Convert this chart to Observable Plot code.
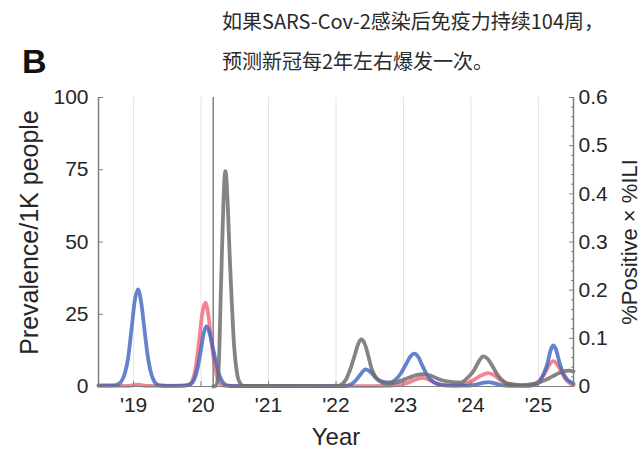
<!DOCTYPE html>
<html>
<head>
<meta charset="utf-8">
<script src="https://cdn.jsdelivr.net/npm/d3@7"></script>
<script src="https://cdn.jsdelivr.net/npm/@observablehq/plot@0.6"></script>
<style>
  body { margin: 0; background: #fff; }
  #header { position: relative; width: 642px; height: 85px; }
  #panel { position: absolute; left: 22px; top: 44px; font: bold 34px/1 "Liberation Sans", Arial, sans-serif; color: #111; }
  .t { position: absolute; left: 222px; font: 20px/20px "Noto Sans CJK SC", sans-serif; color: #2a2a2a; white-space: nowrap; }
</style>
</head>
<body>
<div id="header"><div id="panel"></div><div class="t" id="t1" style="top:11px"></div><div class="t" id="t2" style="top:51px"></div></div>
<div id="chart"></div>
<script>
// ---- text ----
const panelLabel = "B";
const titleLines = ["如果SARS-Cov-2感染后免疫力持续104周，", "预测新冠每2年左右爆发一次。"];
const xLabel = "Year";
const yLabelLeft = "Prevalence/1K people";
const yLabelRight = "%Positive × %ILI";

// ---- axes ----
const xDomain = [2018.48, 2025.52];
const yearTicks = [2019, 2020, 2021, 2022, 2023, 2024, 2025];
const xTickLabels = ["'19", "'20", "'21", "'22", "'23", "'24", "'25"];
const leftTicks = [0, 25, 50, 75, 100];
const rightTicks = [0, 0.1, 0.2, 0.3, 0.4, 0.5, 0.6];
const rightMinorTicks = [0.02,0.04,0.06,0.08,0.12,0.14,0.16,0.18,0.22,0.24,0.26,0.28,0.32,0.34,0.36,0.38,0.42,0.44,0.46,0.48,0.52,0.54,0.56,0.58];
const rightFactor = 0.006; // right-axis units per left-axis unit (0.6 <-> 100)
const vlineYear = 2020.18;

// ---- series (left-axis units) ----
const blueYears = [2018.48,2018.70,2018.77,2018.82,2018.87,2018.92,2018.97,2019.02,2019.065,2019.11,2019.16,2019.21,2019.26,2019.31,2019.37,2019.5,
  2019.75,2019.85,2019.9,2019.95,2020.0,2020.04,2020.078,2020.12,2020.17,2020.22,2020.27,2020.32,2020.38,2020.5,
  2022.1,2022.2,2022.28,2022.35,2022.44,2022.52,2022.6,2022.7,2022.8,2022.88,2022.96,2023.04,2023.1,2023.16,2023.22,2023.28,2023.35,2023.42,2023.5,2023.65,2023.9,
  2024.05,2024.15,2024.26,2024.35,2024.45,2024.6,2024.85,2024.95,2025.02,2025.08,2025.14,2025.18,2025.22,2025.26,2025.31,2025.36,2025.42,2025.48,2025.52];
const blueValues = [0.4,0.4,0.8,1.8,4.5,10,20,30,33.6,29.5,20,10.5,4.5,1.6,0.5,0.2,
  0.3,0.9,2.5,6.5,13,18.5,20.8,19,14,8.5,4,1.5,0.4,0.1,
  0.1,0.5,1.8,3.8,5.9,4.8,2.8,1.6,1.4,2.3,4.5,7.8,10.3,11.4,10.2,7.2,4,2,0.9,0.4,0.3,
  0.6,1.1,1.5,1.1,0.5,0.2,0.2,0.6,1.8,4.5,8.5,12.5,14.2,12.8,8.5,5,2.6,1.5,1.0];

const redYears = [2018.48,2018.9,2019.065,2019.2,2019.75,2019.82,2019.87,2019.92,2019.97,2020.02,2020.063,2020.10,2020.15,2020.20,2020.25,2020.30,2020.38,
  2022.4,2022.7,2022.9,2023.0,2023.1,2023.2,2023.28,2023.36,2023.45,2023.55,2023.7,2023.85,2023.95,2024.05,2024.15,2024.26,2024.35,2024.44,2024.54,2024.7,2024.85,
  2024.95,2025.03,2025.1,2025.16,2025.22,2025.28,2025.34,2025.4,2025.46,2025.52];
const redValues = [0.2,0.2,0.6,0.2,0.3,0.6,2,6.5,15.5,25.5,29,26,16.5,7.5,2.5,0.7,0.2,
  0.1,0.2,0.5,0.9,1.6,2.6,3.0,2.5,1.4,0.6,0.3,0.5,1.2,2.4,3.8,4.6,3.8,2.2,1.0,0.4,0.4,
  1.0,2.4,4.8,7.5,8.8,7.6,5,2.6,1.2,0.5];

const grayYears = [2020.18,2020.22,2020.25,2020.27,2020.29,2020.32,2020.345,2020.36,2020.375,2020.40,2020.43,2020.46,2020.49,2020.53,2020.57,2020.63,
  2022.0,2022.08,2022.15,2022.22,2022.28,2022.33,2022.38,2022.43,2022.48,2022.53,2022.6,2022.68,2022.78,2022.9,2023.0,2023.1,2023.2,2023.3,2023.4,2023.5,2023.6,2023.7,
  2023.85,2023.95,2024.05,2024.12,2024.18,2024.25,2024.32,2024.38,2024.45,2024.55,2024.75,2024.9,2025.0,2025.1,2025.2,2025.3,2025.4,2025.46,2025.52];
const grayValues = [0,0.3,3,12,30,55,71,74.5,72,60,42,27,14,5,1.5,0.2,
  0.1,0.6,2.5,6.5,11,14.8,16.3,14.5,10.5,6,2.8,1.4,1.0,1.5,2.3,3.2,4.0,4.3,3.8,2.8,2.0,1.6,
  1.4,3,5.8,8.8,10.4,9.5,7,4.5,2.5,1.0,0.5,0.8,1.3,2.2,3.4,4.6,5.4,5.5,5.2];

const toRows = (xs, ys) => xs.map((x, i) => ({x, y: ys[i]}));
const blue = toRows(blueYears, blueValues);
const red = toRows(redYears, redValues);
const gray = toRows(grayYears, grayValues);

document.getElementById("panel").textContent = panelLabel;
document.getElementById("t1").textContent = titleLines[0];
document.getElementById("t2").textContent = titleLines[1];

const axisColor = "#7f7f7f";
const textColor = "#262626";
const fmtRight = d => { const v = Math.round(d * rightFactor * 10) / 10; return v === 0 ? "0" : v.toFixed(1); };

const chart = Plot.plot({
  width: 642,
  height: 364,
  marginTop: 12,
  marginBottom: 63,
  marginLeft: 98,
  marginRight: 69,
  style: {fontFamily: "'Liberation Sans', Arial, sans-serif", fontSize: "21px", color: textColor, background: "#fff"},
  x: {domain: xDomain, axis: null, label: null},
  y: {domain: [0, 100], axis: null, label: null},
  marks: [
    Plot.gridX(yearTicks, {stroke: "#e4e4e4", strokeOpacity: 1, strokeWidth: 1}),
    Plot.ruleX([vlineYear], {stroke: "#8a8a8a", strokeWidth: 1.6}),
    Plot.line(red, {x: "x", y: "y", stroke: "#f05a70", strokeWidth: 3.8, strokeOpacity: 0.75, curve: "monotone-x"}),
    Plot.line(blue, {x: "x", y: "y", stroke: "#3f63bf", strokeWidth: 3.8, strokeOpacity: 0.8, curve: "monotone-x"}),
    Plot.line(gray, {x: "x", y: "y", stroke: "#6e6e6e", strokeWidth: 3.8, strokeOpacity: 0.85, curve: "monotone-x"}),
    Plot.ruleX(xDomain, {stroke: axisColor, strokeWidth: 1.5}),
    Plot.ruleY([0], {stroke: axisColor, strokeWidth: 1.2}),
    Plot.axisY(leftTicks, {anchor: "left", tickSize: -5, tickPadding: 15, stroke: axisColor, fill: textColor, label: null, tickFormat: d => String(d)}),
    Plot.axisY(rightTicks.map(v => v / rightFactor), {anchor: "right", tickSize: -5, tickPadding: 10, stroke: axisColor, fill: textColor, label: null, tickFormat: fmtRight}),
    Plot.axisY(rightMinorTicks.map(v => v / rightFactor), {anchor: "right", tickSize: -3, stroke: axisColor, fill: "none", label: null}),
    Plot.axisX(yearTicks, {anchor: "bottom", tickSize: -5, tickPadding: 16, stroke: axisColor, fill: textColor, label: null, tickFormat: d => xTickLabels[yearTicks.indexOf(d)]}),
    Plot.text([yLabelLeft], {frameAnchor: "left", textAnchor: "middle", lineAnchor: "middle", rotate: -90, dx: -69, dy: -9.5, fontSize: 25, fill: textColor}),
    Plot.text([yLabelRight], {frameAnchor: "right", textAnchor: "middle", lineAnchor: "middle", rotate: -90, dx: 56, dy: 0, fontSize: 22, fill: textColor}),
    Plot.text([xLabel], {frameAnchor: "bottom", textAnchor: "middle", lineAnchor: "middle", dy: 51, fontSize: 24, fill: textColor})
  ]
});
document.getElementById("chart").appendChild(chart);
</script>
</body>
</html>
